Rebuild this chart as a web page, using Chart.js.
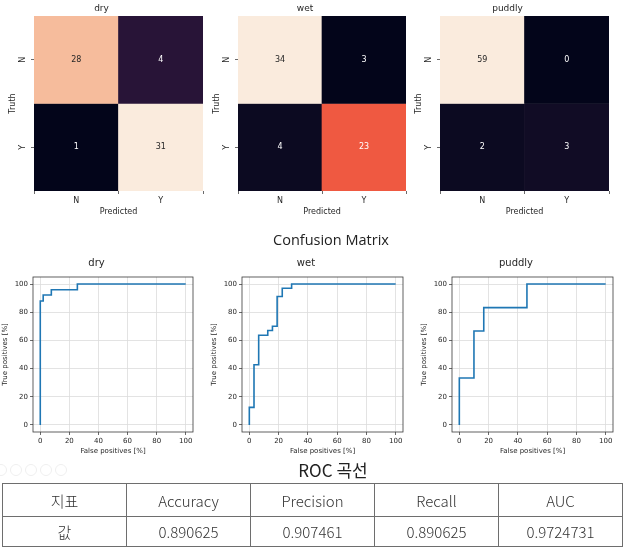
<!DOCTYPE html>
<html><head><meta charset="utf-8">
<script src="https://cdn.jsdelivr.net/npm/chart.js@4.4.1/dist/chart.umd.min.js"></script>
<style>
html,body{margin:0;padding:0;background:#fff;}
#wrap{position:relative;width:623px;height:550px;overflow:hidden;background:#fff;}
canvas{position:absolute;}
.cap{position:absolute;text-align:center;color:#222;white-space:nowrap;}
#cap1{left:231px;width:200px;top:230px;font:14.5px "Open Sans",sans-serif;line-height:20px;}
#cap2{left:233px;width:200px;top:458px;font:17px "Noto Sans CJK KR",sans-serif;line-height:24px;}
#metrics{position:absolute;left:2px;top:483px;border-collapse:collapse;table-layout:fixed;
  font-family:"Noto Sans CJK KR",sans-serif;font-weight:300;font-size:15px;color:#333;}
#metrics td{border:1px solid #6e6e6e;width:123px;text-align:center;padding:0;}
#metrics tr.h td{height:32px;}
#metrics tr.v td{height:29px;}
.ico{position:absolute;top:464px;width:10px;height:10px;border:1px solid #efefef;border-radius:50%;}
</style></head><body>
<div id="wrap">
<canvas id="cmDry" width="207" height="222" style="left:0px;top:0px"></canvas>
<canvas id="cmWet" width="206" height="222" style="left:204px;top:0px"></canvas>
<canvas id="cmPuddly" width="207" height="222" style="left:406px;top:0px"></canvas>
<canvas id="rocDry" width="199" height="210" style="left:0px;top:250px"></canvas>
<canvas id="rocWet" width="200" height="210" style="left:209px;top:250px"></canvas>
<canvas id="rocPuddly" width="200" height="210" style="left:419px;top:250px"></canvas>
<div class="cap" id="cap1">Confusion Matrix</div>
<div class="cap" id="cap2">ROC 곡선</div>
<div class="ico" style="left:-5px"></div><div class="ico" style="left:10px"></div><div class="ico" style="left:25px"></div><div class="ico" style="left:40px"></div><div class="ico" style="left:55px"></div>
<table id="metrics"><tbody></tbody></table>
</div>
<script>
// ---------- data ----------
const classNames = ['dry', 'wet', 'puddly'];
const cmAxisLabels = ['N', 'Y'];
const cmDry = [[28, 4], [1, 31]];
const cmWet = [[34, 3], [4, 23]];
const cmPuddly = [[59, 0], [2, 3]];

const rocTicks = [0, 20, 40, 60, 80, 100];
const dryFpr = [0, 0, 2, 2, 7.6, 7.6, 25.5, 25.5, 100];
const dryTpr = [0, 88, 88, 92.2, 92.2, 96, 96, 100, 100];
const wetFpr = [0, 0, 3.2, 3.2, 6.4, 6.4, 12.6, 12.6, 15.8, 15.8, 19, 19, 22.5, 22.5, 28.9, 28.9, 100];
const wetTpr = [0, 12.5, 12.5, 42.7, 42.7, 63.7, 63.7, 67, 67, 70, 70, 91.2, 91.2, 97, 97, 100, 100];
const puddlyFpr = [0, 0, 10, 10, 16.7, 16.7, 46.2, 46.2, 100];
const puddlyTpr = [0, 33.3, 33.3, 66.7, 66.7, 83.3, 83.3, 100, 100];

const metricHeader = '지표';
const metricRowLabel = '값';
const metricNames = ['Accuracy', 'Precision', 'Recall', 'AUC'];
const metricValues = ['0.890625', '0.907461', '0.890625', '0.9724731'];

// ---------- styles ----------
const FONT = 'DejaVu Sans';
const TXT = '#262626';
const rocketStops = [
  [0.00, [3, 5, 26]], [0.05, [17, 12, 37]], [0.10, [40, 20, 55]], [0.25, [90, 30, 82]],
  [0.50, [203, 27, 79]], [0.65, [240, 91, 65]], [0.75, [243, 122, 86]],
  [0.90, [246, 188, 156]], [1.00, [250, 235, 221]]
];
function rocket(t) {
  t = Math.max(0, Math.min(1, t));
  for (let i = 1; i < rocketStops.length; i++) {
    const [t1, c1] = rocketStops[i], [t0, c0] = rocketStops[i - 1];
    if (t <= t1) {
      const f = (t - t0) / (t1 - t0);
      return c0.map((c, k) => Math.round(c + (c1[k] - c) * f));
    }
  }
  return rocketStops[rocketStops.length - 1][1];
}
const rgb = c => `rgb(${c[0]},${c[1]},${c[2]})`;
function lum(c) {
  const l = c.map(v => { v /= 255; return v <= 0.03928 ? v / 12.92 : Math.pow((v + 0.055) / 1.055, 2.4); });
  return 0.2126 * l[0] + 0.7152 * l[1] + 0.0722 * l[2];
}

const cellText = {
  id: 'cellText',
  afterDatasetsDraw(chart) {
    const ctx = chart.ctx;
    ctx.save();
    ctx.font = `8px "${FONT}"`;
    ctx.textAlign = 'center';
    ctx.textBaseline = 'middle';
    chart.data.datasets.forEach((ds, i) => {
      chart.getDatasetMeta(i).data.forEach((el, j) => {
        const p = el.getProps(['x', 'y', 'base'], true);
        ctx.fillStyle = lum(ds.cellRgb[j]) > 0.408 ? TXT : '#ffffff';
        ctx.fillText(String(ds.cells[j]), p.x, (p.y + p.base) / 2);
      });
    });
    ctx.restore();
  }
};

const frameBox = {
  id: 'frameBox',
  afterDatasetsDraw(chart) {
    const a = chart.chartArea, ctx = chart.ctx;
    ctx.save();
    ctx.strokeStyle = '#3a3a3a';
    ctx.lineWidth = 0.8;
    ctx.strokeRect(a.left, a.top, a.right - a.left, a.bottom - a.top);
    ctx.restore();
  }
};

function makeHeatmap(id, title, cm, padRight) {
  const flat = cm.flat();
  const vmin = Math.min(...flat), vmax = Math.max(...flat);
  const datasets = cm.map((row, r) => {
    const cols = row.map(v => rocket((v - vmin) / (vmax - vmin)));
    return {
      label: cmAxisLabels[r],
      data: row.map(() => [r, r + 1]),
      cells: row,
      cellRgb: cols,
      backgroundColor: cols.map(rgb),
      borderWidth: 0,
      barPercentage: 1,
      categoryPercentage: 1,
      grouped: false
    };
  });
  new Chart(document.getElementById(id), {
    type: 'bar',
    data: { labels: cmAxisLabels, datasets },
    plugins: [cellText],
    options: {
      responsive: false, animation: false,
      layout: { padding: { left: 0, right: padRight, top: 0, bottom: 0 } },
      plugins: {
        legend: { display: false }, tooltip: { enabled: false },
        title: { display: true, text: title, color: TXT, font: { family: FONT, size: 9, weight: 'normal' }, padding: { top: 3, bottom: 2.2 } }
      },
      scales: {
        x: {
          afterFit: s => { s.height = 31; },
          grid: { display: true, drawOnChartArea: false, drawTicks: true, tickLength: 3, tickColor: '#444', tickWidth: 0.8 },
          border: { display: false },
          ticks: { color: TXT, font: { family: FONT, size: 8 }, padding: 2, maxRotation: 0 },
          title: { display: true, text: 'Predicted', color: TXT, font: { family: FONT, size: 8 }, padding: { top: 0, bottom: 5.5 } }
        },
        y: {
          min: 0, max: 2, reverse: true,
          afterFit: s => { s.width = 34; },
          afterBuildTicks: s => { s.ticks = cmAxisLabels.map((_, i) => ({ value: i + 0.5 })); },
          grid: { display: true, drawOnChartArea: false, drawTicks: true, tickLength: 3, tickColor: '#444', tickWidth: 0.8 },
          border: { display: false },
          ticks: { color: TXT, font: { family: FONT, size: 8 }, padding: 5, minRotation: 90, maxRotation: 90, crossAlign: 'center',
                   callback: v => cmAxisLabels[Math.floor(v)] },
          title: { display: true, text: 'Truth', color: TXT, font: { family: FONT, size: 8 }, padding: { top: 8, bottom: 0 } }
        }
      }
    }
  });
}

function makeRoc(id, title, fpr, tpr, padRight) {
  new Chart(document.getElementById(id), {
    type: 'line',
    data: { datasets: [{
      data: fpr.map((x, i) => ({ x, y: tpr[i] })),
      borderColor: '#1f77b4', borderWidth: 1.6, pointRadius: 0, tension: 0, fill: false
    }] },
    plugins: [frameBox],
    options: {
      responsive: false, animation: false,
      layout: { padding: { left: 0, right: padRight, top: 0, bottom: 0 } },
      plugins: {
        legend: { display: false }, tooltip: { enabled: false },
        title: { display: true, text: title, color: TXT, font: { family: FONT, size: 10, weight: 'normal' }, padding: { top: 7, bottom: 8 } }
      },
      scales: {
        x: {
          type: 'linear', min: -5, max: 105,
          afterFit: s => { s.height = 28; },
          afterBuildTicks: s => { s.ticks = rocTicks.map(v => ({ value: v })); },
          grid: { color: '#dcdcdc', lineWidth: 0.8, tickLength: 3, tickColor: '#444', tickWidth: 0.8 },
          border: { display: false },
          ticks: { color: TXT, font: { family: FONT, size: 7 }, padding: 2, maxRotation: 0 },
          title: { display: true, text: 'False positives [%]', color: TXT, font: { family: FONT, size: 7 }, padding: { top: 0, bottom: 4.5 } }
        },
        y: {
          type: 'linear', min: -5, max: 105,
          afterFit: s => { s.width = 33; },
          afterBuildTicks: s => { s.ticks = rocTicks.map(v => ({ value: v })); },
          grid: { color: '#dcdcdc', lineWidth: 0.8, tickLength: 3, tickColor: '#444', tickWidth: 0.8 },
          border: { display: false },
          ticks: { color: TXT, font: { family: FONT, size: 7 }, padding: 2 },
          title: { display: true, text: 'True positives [%]', color: TXT, font: { family: FONT, size: 7 }, padding: { top: 1, bottom: 0 } }
        }
      }
    }
  });
}

makeHeatmap('cmDry', classNames[0], cmDry, 4);
makeHeatmap('cmWet', classNames[1], cmWet, 4);
makeHeatmap('cmPuddly', classNames[2], cmPuddly, 4);
makeRoc('rocDry', classNames[0], dryFpr, dryTpr, 6);
makeRoc('rocWet', classNames[1], wetFpr, wetTpr, 6);
makeRoc('rocPuddly', classNames[2], puddlyFpr, puddlyTpr, 6);

// table
const tb = document.querySelector('#metrics tbody');
const r1 = document.createElement('tr'); r1.className = 'h';
[metricHeader, ...metricNames].forEach(t => { const td = document.createElement('td'); td.textContent = t; r1.appendChild(td); });
const r2 = document.createElement('tr'); r2.className = 'v';
[metricRowLabel, ...metricValues].forEach(t => { const td = document.createElement('td'); td.textContent = t; r2.appendChild(td); });
tb.appendChild(r1); tb.appendChild(r2);
</script>
</body></html>
